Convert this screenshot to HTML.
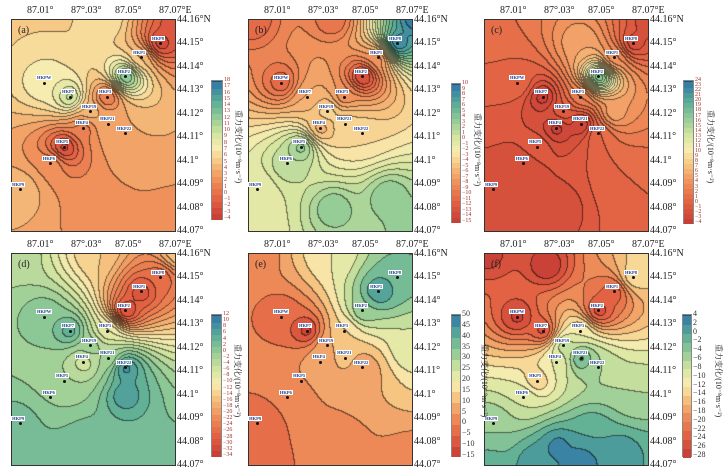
<!DOCTYPE html>
<html><head><meta charset="utf-8">
<style>
html,body{margin:0;padding:0;background:#fff;width:726px;height:475px;overflow:hidden;font-family:"Liberation Sans","Noto Sans CJK SC",sans-serif}
canvas{position:absolute;border:1px solid #333;box-sizing:content-box}
.t{position:absolute;font-size:10px;color:#222;white-space:nowrap;font-family:"Liberation Serif","Noto Serif CJK SC",serif}
.cb{position:absolute;border:1px solid #888}
.cl{position:absolute;font-size:6px;line-height:6px;white-space:nowrap;font-family:"Liberation Serif",serif}
.st{position:absolute;font-size:4.5px;line-height:5px;background:#fff;color:#1a3c8c;font-weight:bold;padding:0 1px;white-space:nowrap;font-family:"Liberation Serif",serif}
.dot{position:absolute;width:3px;height:3px;background:#111;border-radius:50%}
.ttl{position:absolute;font-size:8px;line-height:10px;white-space:nowrap;transform-origin:0 0;transform:rotate(90deg);font-family:"Liberation Serif","Noto Serif CJK SC",serif;color:#222;z-index:5}
.lt{position:absolute;font-size:10px;font-family:"Liberation Serif",serif;color:#222}
</style></head>
<body>
<div id="root"></div>
<script>
// ---- data ----
const stationNames=["HKP8","HKP1","HKP2","HKPW","HKP7","HKP3","HKP19","HKP21","HKP22","HKP4","HKP5","HKP6","HKP9"];
const stationLon=[87.0641,87.0555,87.0486,87.0118,87.0232,87.0400,87.0323,87.0405,87.0482,87.0295,87.0205,87.0145,87.0005];
const stationLat=[44.1498,44.1438,44.1357,44.1331,44.1271,44.1271,44.1208,44.1156,44.1114,44.1139,44.1058,44.0986,44.0875];
const lonTicks=[87.01,87.03,87.05,87.07];
const lonTickLabels=["87.01°","87°.03°","87.05°","87.07°E"];
const latTicks=[44.16,44.15,44.14,44.13,44.12,44.11,44.10,44.09,44.08,44.07];
const latTickLabels=["44.16°N","44.15°","44.14°","44.13°","44.12°","44.11°","44.1°","44.09°","44.08°","44.07°"];
const panelLetters=["(a)","(b)","(c)","(d)","(e)","(f)"];
// station values per panel
const valsA=[-3,5,14,8,11,0,5,4,4,1,-3,3,5];
const valsB=[10,-8,-14,-11,-6,-8,-3,-3,-3,-6,4,2,-1];
const valsC=[-2,4,20,1,-4,3,0,-4,1,-4,0,-2,-2];
const valsD=[-26,-30,-32,2,6,-8,0,-2,10,-6,-2,0,4];
const valsE=[40,46,35,-5,-14,15,10,12,5,8,5,0,-5];
const valsF=[-12,-24,-26,-27,-26,-10,-6,0,-6,-10,-14,-8,-4];
// extra anchor points [lon,lat,value]
const anchorsA=[[86.998,44.16,6],[87.072,44.16,-2],[86.998,44.07,4],[87.072,44.07,2],[87.04,44.16,7],[87.035,44.075,2]];
const anchorsB=[[86.998,44.16,-11],[87.072,44.16,10],[86.998,44.07,-1],[87.072,44.07,4],[87.035,44.08,4],[87.035,44.16,-10],[87.06,44.085,4]];
const anchorsC=[[86.998,44.16,2],[87.072,44.16,-2],[86.998,44.07,-2],[87.072,44.07,1],[87.055,44.12,6],[87.04,44.15,6],[87.03,44.08,-2],[87.06,44.09,1]];
const anchorsD=[[86.998,44.16,-2],[87.072,44.16,-14],[86.998,44.07,4],[87.072,44.07,4],[87.035,44.16,-14],[87.048,44.10,8],[87.03,44.08,4],[87.02,44.072,4],[87.055,44.072,4]];
const anchorsE=[[86.998,44.16,0],[87.072,44.16,35],[86.998,44.07,-5],[87.072,44.07,0],[87.035,44.16,20],[87.035,44.08,0],[87.07,44.12,25]];
const anchorsF=[[86.998,44.16,-27],[87.072,44.16,-12],[86.998,44.07,-1],[87.072,44.07,0],[87.025,44.155,-28],[87.03,44.078,3],[87.065,44.10,-6],[87.02,44.071,2],[87.04,44.071,4],[87.058,44.075,2],[87.045,44.085,0]];
// colorbar ranges
const cbMin=[-4,-15,-4,-34,-15,-28];
const cbMax=[18,10,24,12,50,4];
const cbStep=[1,1,1,2,5,2];

const panelVals=[valsA,valsB,valsC,valsD,valsE,valsF];
const panelAnchors=[anchorsA,anchorsB,anchorsC,anchorsD,anchorsE,anchorsF];
const frames=[[12,20],[249,20],[485,20],[12,254],[249,254],[485,254]];
const FW=163,FH=211;
const cbPos=[[211,80,10,138],[451,83,8,138],[683,80,9,142],[211,314,9,141],[451,314,8,141],[682,314,8,141]];
const ttlOff=[21,22,22,21,29,32];

function xOf(lon){return 161-(87.07-lon)*2200;}
function yOf(lat){return (44.16-lat)*2344;}
const stops=[[0,[196,58,52]],[0.15,[226,96,66]],[0.3,[240,146,92]],[0.42,[246,196,128]],[0.52,[248,236,176]],[0.62,[214,230,160]],[0.74,[150,204,150]],[0.86,[92,174,150]],[1,[48,118,168]]];
function cmap(t){t=Math.max(0,Math.min(1,t));for(let i=1;i<stops.length;i++){if(t<=stops[i][0]){const a=stops[i-1],b=stops[i];const f=(t-a[0])/(b[0]-a[0]);return a[1].map((v,k)=>Math.round(v+(b[1][k]-v)*f));}}return stops[stops.length-1][1];}

const root=document.getElementById('root');
function add(cls,txt,x,y,name){const e=document.createElement('div');e.className=cls;if(txt!==null)e.textContent=txt;e.style.left=x+'px';e.style.top=y+'px';


root.appendChild(e);return e;}

for(let p=0;p<6;p++){
  const [fx,fy]=frames[p];
  const vals=panelVals[p],anc=panelAnchors[p];
  const pts=[];
  for(let i=0;i<stationNames.length;i++)pts.push([xOf(stationLon[i]),yOf(stationLat[i]),vals[i]]);
  anc.forEach(a=>pts.push([xOf(a[0]),yOf(a[1]),a[2]]));
  const c=document.createElement('canvas');c.width=FW;c.height=FH;c.style.left=(fx-1)+'px';c.style.top=(fy-1)+'px';
  
  
  root.appendChild(c);
  const ctx=c.getContext('2d');const img=ctx.createImageData(FW,FH);
  const mn=cbMin[p],mx=cbMax[p],st=cbStep[p];
  const band=new Int16Array(FW*FH);
  for(let y=0;y<FH;y++)for(let x=0;x<FW;x++){
    let sw=0,sv=0;
    for(const q of pts){const d2=(x-q[0])**2+(y-q[1])**2;const w=1/Math.pow(d2+60,1.3);sw+=w;sv+=w*q[2];}
    const v=sv/sw;
    let b=Math.floor((v-mn)/st);b=Math.max(0,Math.min(Math.round((mx-mn)/st)-1,b));
    band[y*FW+x]=b;
    const col=cmap((b+0.5)*st/(mx-mn));
    const k=(y*FW+x)*4;img.data[k]=col[0];img.data[k+1]=col[1];img.data[k+2]=col[2];img.data[k+3]=255;
  }
  for(let y=0;y<FH;y++)for(let x=0;x<FW;x++){
    const b=band[y*FW+x];
    if((x<FW-1&&band[y*FW+x+1]!==b)||(y<FH-1&&band[(y+1)*FW+x]!==b)){const k=(y*FW+x)*4;img.data[k]*=0.45;img.data[k+1]*=0.45;img.data[k+2]*=0.45;}
  }
  ctx.putImageData(img,0,0);
  for(let i=0;i<stationNames.length;i++){
    const sx=fx+xOf(stationLon[i]),sy=fy+yOf(stationLat[i]);
    add('dot',null,sx-1.5,sy-1.5,'station-marker-'+stationNames[i].toLowerCase());
    add('st',stationNames[i],sx-9,sy-8,'station-label-'+stationNames[i].toLowerCase());
  }
  add('lt',panelLetters[p],fx+6,fy+5,'panel-letter-'+'abcdef'[p]);
  for(let i=0;i<lonTicks.length;i++){add('t',lonTickLabels[i],fx+xOf(lonTicks[i])-14,fy-15,'x-tick-label');}
  for(let i=0;i<latTicks.length;i++){add('t',latTickLabels[i],fx+FW+2,fy+yOf(latTicks[i])-6,'y-tick-label');}
  const [bx,by,bw,bh]=cbPos[p];
  const nb=Math.round((mx-mn)/st);
  const cb=add('cb',null,bx,by,'colorbar-'+'abcdef'[p]);cb.style.width=bw+'px';cb.style.height=bh+'px';
  for(let b=0;b<nb;b++){const s=document.createElement('div');s.style.position='absolute';s.style.left='0';s.style.width=bw+'px';
    const h=bh/nb;s.style.top=((nb-1-b)*h)+'px';s.style.height=(h+0.5)+'px';const col=cmap((b+0.5)/nb);s.style.background='rgb('+col+')';
    s.style.borderTop='0.5px solid rgba(0,0,0,0.35)';
    
    
    cb.appendChild(s);}
  const big=(p>=4);
  for(let b=0;b<=nb;b++){const v=mn+b*st;const ly=by+bh-b*bh/nb;
    const e=add('cl',String(v).replace('-','−'),bx+bw+3,ly-(big?4:3),'colorbar-tick-label');
    if(big){e.style.fontSize='8px';e.style.lineHeight='8px';e.style.color='#333';}else{e.style.color='#a0302a';}
  }
  add('ttl','重力变化/(10⁻⁸m·s⁻²)',bx+bw+ttlOff[p]+1,by+30,'colorbar-title');
}
</script>
</body></html>
